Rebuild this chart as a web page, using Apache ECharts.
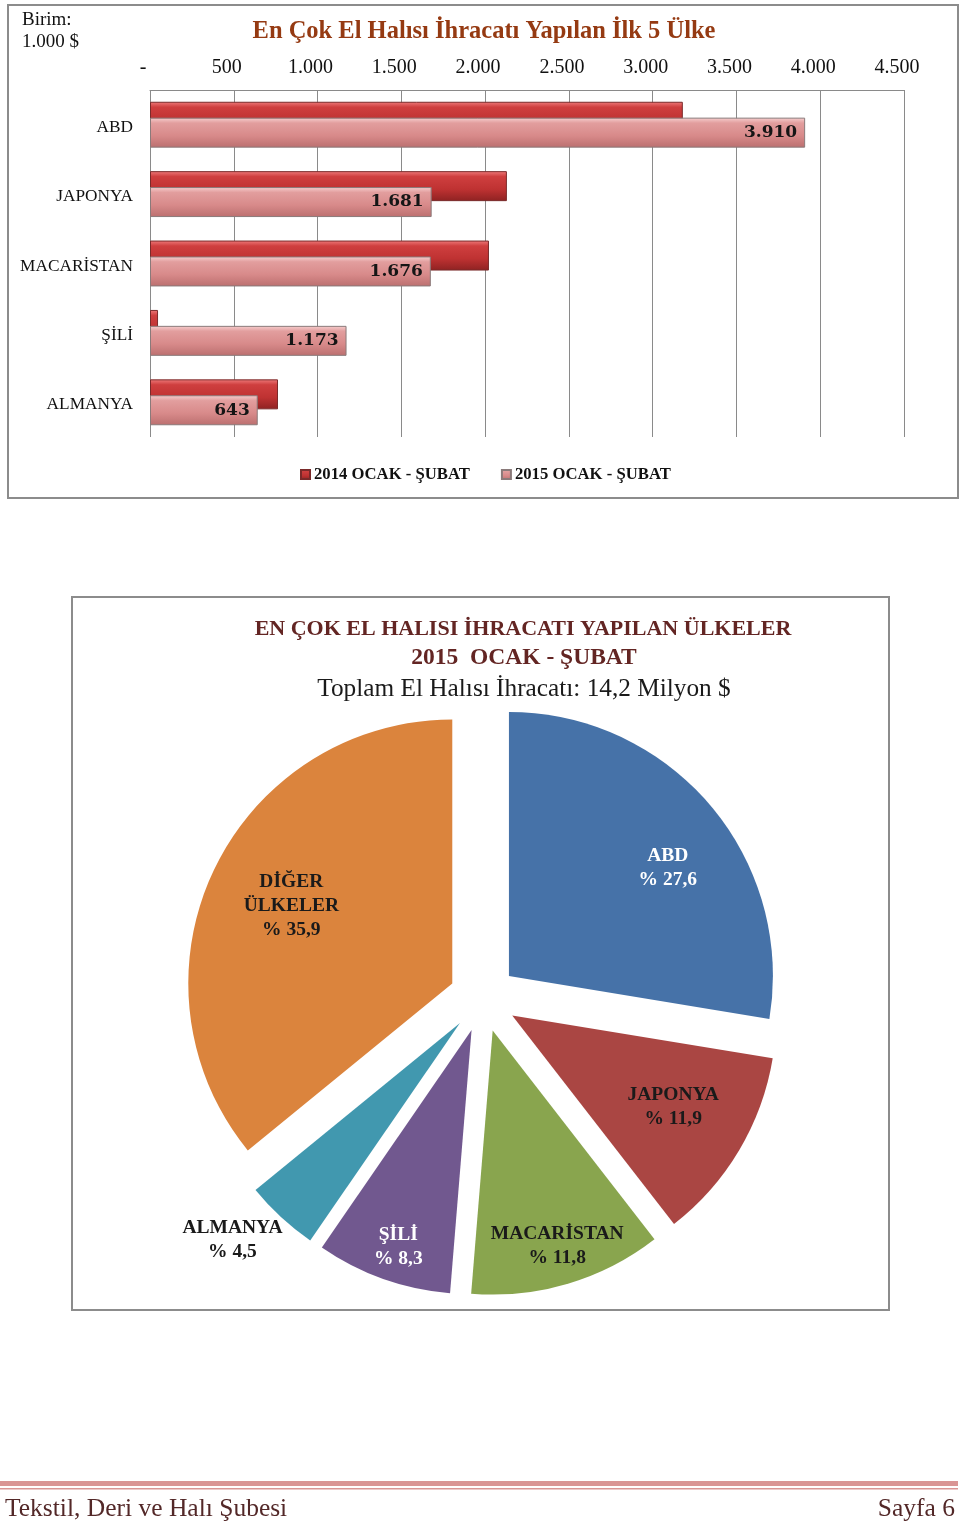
<!DOCTYPE html>
<html><head><meta charset="utf-8">
<script src="https://cdn.jsdelivr.net/npm/echarts@6/dist/echarts.min.js"></script>
<style>html,body{margin:0;padding:0;background:#fff}#c{width:960px;height:1528px}</style>
</head><body><div id="c"></div>
<script>
// ---------- data ----------
const countries = ['ABD', 'JAPONYA', 'MACARİSTAN', 'ŞİLİ', 'ALMANYA'];
const values2014 = [3180, 2130, 2023, 48, 764];
const values2015 = [3910, 1681, 1676, 1173, 643];
const seriesNames = ['2014 OCAK - ŞUBAT', '2015 OCAK - ŞUBAT'];
const xTickMin = 0, xTickMax = 4500, xTickStep = 500;

const pieNames = ['ABD', 'JAPONYA', 'MACARİSTAN', 'ŞİLİ', 'ALMANYA', 'DİĞER ÜLKELER'];
const pieShares = [27.6, 11.9, 11.8, 8.3, 4.5, 35.9];

// ---------- styles ----------
const pieColors = ['#4672A8', '#AA4643', '#89A54E', '#71588F', '#4198AF', '#DB843D'];
const pieLabelColors = ['#ffffff', '#1a1a1a', '#1a1a1a', '#ffffff', '#1a1a1a', '#1a1a1a'];
const pieLabelOffset = [[56, -21], [45, 22], [26, 86], [-28, 90], [-136, 118], [-39, -20]];

const SERIF = "'Liberation Serif', 'Times New Roman', serif";
const SERIF_W = "'DejaVu Serif', serif";

function fmtThousands(v) {
  if (v === 0) return '-';
  return String(v).replace(/\B(?=(\d{3})+(?!\d))/g, '.');
}
function vGrad(stops) {
  return new echarts.graphic.LinearGradient(0, 0, 0, 1, stops.map(c => ({ offset: c[0], color: c[1] })));
}

const chart = echarts.init(document.getElementById('c'), null, { renderer: 'canvas' });
chart.setOption({
  animation: false,
  backgroundColor: '#ffffff',
  title: [
    { text: 'En Çok El Halısı İhracatı Yapılan İlk 5 Ülke', left: 479, top: 27, textAlign: 'center', textVerticalAlign: 'middle',
      textStyle: { fontFamily: SERIF, fontWeight: 'bold', fontSize: 24.5, color: '#953A12' } },
    { text: 'EN ÇOK EL HALISI İHRACATI YAPILAN ÜLKELER', left: 518, top: 624, textAlign: 'center', textVerticalAlign: 'middle',
      textStyle: { fontFamily: SERIF, fontWeight: 'bold', fontSize: 22, color: '#632523' } },
    { text: '2015  OCAK - ŞUBAT', left: 519, top: 653, textAlign: 'center', textVerticalAlign: 'middle',
      textStyle: { fontFamily: SERIF, fontWeight: 'bold', fontSize: 23.5, color: '#632523' } },
    { text: 'Toplam El Halısı İhracatı: 14,2 Milyon $', left: 519, top: 684, textAlign: 'center', textVerticalAlign: 'middle',
      textStyle: { fontFamily: SERIF, fontWeight: 'normal', fontSize: 25.3, color: '#1a1a1a' } }
  ],
  legend: {
    data: seriesNames,
    top: 461, left: 295,
    itemWidth: 9, itemHeight: 9, itemGap: 31, icon: 'rect',
    textStyle: { fontFamily: SERIF, fontWeight: 'bold', fontSize: 16.7, color: '#111', padding: [0, 0, 0, -1] }
  },
  grid: { left: 150, right: 56, top: 90, bottom: 1528 - 437, containLabel: false },
  xAxis: {
    type: 'value', position: 'top', min: xTickMin, max: xTickMax, interval: xTickStep,
    axisLine: { show: true, lineStyle: { color: '#8a8a8a', width: 1 } },
    axisTick: { show: false },
    axisLabel: { margin: 12, fontFamily: SERIF, fontSize: 20, color: '#111', formatter: fmtThousands, padding: [0, 14, 0, 0] },
    splitLine: { show: true, lineStyle: { color: '#8a8a8a', width: 1 } }
  },
  yAxis: {
    type: 'category', data: countries, inverse: true,
    axisLine: { show: false }, axisTick: { show: false },
    axisLabel: { margin: 17, formatter: v => '{c|' + v + '}',
      rich: { c: { fontFamily: SERIF, fontSize: 17.3, color: '#111', padding: [5, 0, 0, 0] } } }
  },
  series: [
    { name: seriesNames[0], type: 'bar', data: values2014, barWidth: 30, barGap: '-47%', z: 2,
      itemStyle: { color: vGrad([[0, '#ef7b7b'], [0.18, '#cf3f3f'], [0.6, '#bf3232'], [1, '#8e2222']]), borderColor: '#7a2a2a', borderWidth: 1 } },
    { name: seriesNames[1], type: 'bar', data: values2015, barWidth: 30, z: 3,
      itemStyle: { color: vGrad([[0, '#f7cfcf'], [0.18, '#e29e9e'], [0.6, '#d88a8a'], [1, '#bb6f6f']]), borderColor: '#8a7a7a', borderWidth: 1 },
      label: { show: true, position: 'insideRight', distance: 8, formatter: p => fmtThousands(p.value),
        fontFamily: SERIF_W, fontWeight: 'bold', fontSize: 17, color: '#151515' } },
    { type: 'pie', center: [483, 998], radius: [0, 264], startAngle: 90, clockwise: true,
      selectedMode: 'multiple', selectedOffset: 34, avoidLabelOverlap: false,
      emphasis: { disabled: true }, z: 5,
      data: pieNames.map((n, i) => ({ name: n, value: pieShares[i], selected: true,
        itemStyle: { color: pieColors[i] },
        label: { color: pieLabelColors[i] } })),
      label: { show: true, position: 'inside', fontFamily: SERIF, fontWeight: 'bold', fontSize: 19.5, lineHeight: 24,
        formatter: p => p.name.replace(' ', '\n') + '\n% ' + String(p.value).replace('.', ',') },
      labelLine: { show: false },
      labelLayout: function (p) {
        const o = pieLabelOffset[p.dataIndex];
        return { dx: o[0], dy: o[1] };
      }
    }
  ],
  graphic: [
    { type: 'rect', shape: { x: 8, y: 5, width: 950, height: 493 }, style: { fill: 'none', stroke: '#8c8c8c', lineWidth: 2 }, silent: true },
    { type: 'rect', shape: { x: 72, y: 597, width: 817, height: 713 }, style: { fill: 'none', stroke: '#8c8c8c', lineWidth: 2 }, silent: true },
    { type: 'text', left: 22, top: 9, style: { text: 'Birim:\n1.000 $', font: "19px 'Liberation Serif', serif", fill: '#111', lineHeight: 22 } },
    { type: 'rect', shape: { x: 0, y: 1481, width: 958, height: 5 }, style: { fill: '#d99594' }, silent: true },
    { type: 'rect', shape: { x: 0, y: 1488, width: 958, height: 1.5 }, style: { fill: '#d99594' }, silent: true },
    { type: 'text', left: 5, top: 1496, style: { text: 'Tekstil, Deri ve Halı Şubesi', font: "25.5px 'Liberation Serif', serif", fill: '#532828' } },
    { type: 'text', right: 5, top: 1496, style: { text: 'Sayfa 6', font: "25.5px 'Liberation Serif', serif", fill: '#532828' } }
  ]
});
</script></body></html>
